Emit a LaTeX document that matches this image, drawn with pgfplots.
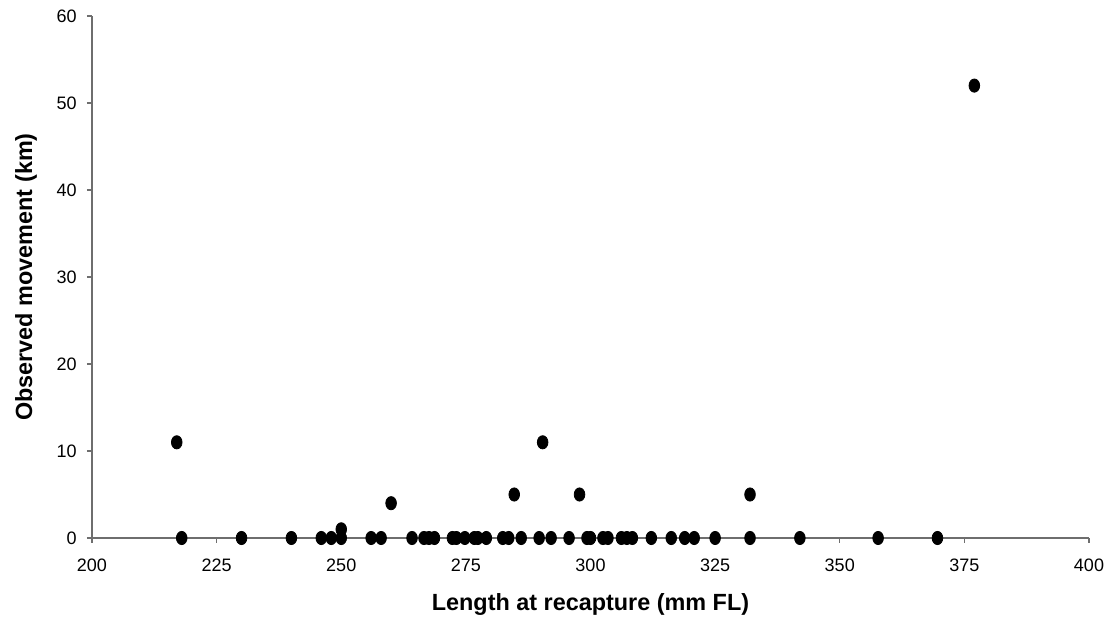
\documentclass[border=0pt]{standalone}
\usepackage{pgfplots}
\pgfplotsset{compat=1.18}
\usepackage{fontspec}
\setmainfont{Liberation Sans}
\definecolor{axgray}{RGB}{110,110,110}
\begin{document}
\begin{tikzpicture}
\useasboundingbox (0,0) rectangle (554.5pt,310.5pt);
\begin{axis}[
  at={(46pt,41.5pt)}, anchor=south west,
  scale only axis, width=498.5pt, height=261pt,
  xmin=200, xmax=400, ymin=0, ymax=60,
  axis x line*=bottom, axis y line*=left,
  axis line style={axgray, line width=0.6pt},
  every tick/.style={axgray, line width=0.6pt},
  tick align=outside, major tick length=2.5pt,
  xtick={200,225,...,400}, ytick={0,10,...,60},
  /pgf/number format/assume math mode=true,
  ticklabel style={font=\fontsize{9}{10}\selectfont},
  yticklabel style={anchor=east, inner sep=0pt, xshift=-5pt},
  xticklabel style={anchor=north, inner sep=0pt, yshift=-8pt},
  xlabel={Length at recapture (mm FL)},
  ylabel={Observed movement (km)},
  label style={font=\bfseries\fontsize{11.7}{13}\selectfont},
  xlabel style={at={(axis description cs:0.5,-0.128)}, anchor=center},
  ylabel style={at={(axis description cs:-0.0662,0.5)}, anchor=center, rotate=0},
  clip=false,
]
\addplot[only marks, mark=*, mark size=2.8pt, mark options={black, fill=black, yscale=1.18, xscale=0.95}] coordinates {
(217,11)(218,0)(230,0)(240,0)(246,0)(248,0)(250,0)(250,1)(256,0)(258,0)
(260,4)(264.2,0)(266.6,0)(267.6,0)(268.7,0)(272.3,0)(273.1,0)(274.8,0)(276.7,0)(277.4,0)
(279.1,0)(282.4,0)(283.6,0)(284.7,5)(286.1,0)(289.7,0)(290.4,11)(292.1,0)(295.7,0)(297.8,5)
(299.3,0)(300,0)(302.5,0)(303.5,0)(306.2,0)(307.3,0)(308.4,0)(312.2,0)(316.2,0)(318.9,0)
(320.8,0)(325,0)(332,0)(332,5)(342,0)(357.7,0)(369.6,0)(377,52)
};
\end{axis}
\end{tikzpicture}
\end{document}
